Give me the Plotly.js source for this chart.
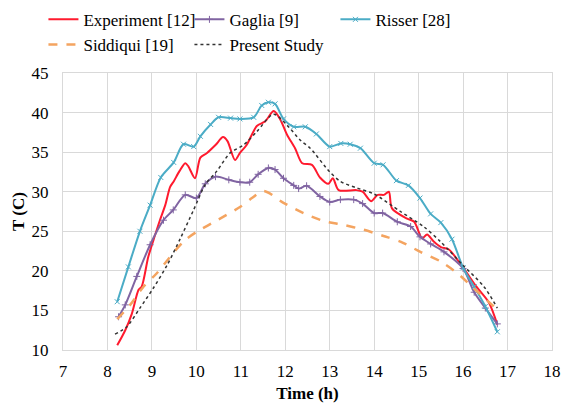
<!DOCTYPE html>
<html>
<head>
<meta charset="utf-8">
<script src="https://cdn.plot.ly/plotly-3.0.1.min.js"></script>
<style>html,body{margin:0;padding:0;background:#fff}#chart{width:561px;height:405px}</style>
</head>
<body>
<div id="chart"></div>
<script>
// Experiment [12]
const expX = [8.22,8.4,8.55,8.7,8.77,8.92,9.07,9.18,9.3,9.41,9.49,9.62,9.75,9.82,9.97,10.09,10.24,10.43,10.6,10.7,10.87,10.98,11.13,11.36,11.55,11.74,11.89,12.04,12.22,12.38,12.6,12.78,12.97,13.07,13.2,13.6,13.74,13.93,14.08,14.22,14.33,14.4,14.74,14.9,15.08,15.19,15.34,15.5,15.68,16.0,16.3,16.58,16.77];
const expY = [10.6,12.5,14.6,17.6,18.0,21.8,24.5,26.4,28.3,30.6,31.3,32.6,33.6,33.2,31.7,34.3,34.9,35.9,36.9,36.4,34.0,34.9,35.9,38.3,38.9,40.2,39.1,37.2,35.5,33.6,33.4,31.8,31.0,31.7,30.2,30.2,30.0,28.8,29.6,29.6,30.0,27.9,26.6,26.2,24.1,24.6,23.7,23.0,22.7,20.4,18.0,16.0,13.2];
// Gaglia [9]
const gagX = [8.25,8.4,8.66,8.96,9.26,9.48,9.75,10.0,10.2,10.43,10.73,10.98,11.2,11.39,11.62,11.77,11.96,12.19,12.3,12.48,12.78,13.0,13.24,13.54,13.74,14.0,14.19,14.52,14.82,15.03,15.27,15.57,16.0,16.25,16.5,16.77];
const gagY = [14.2,15.7,19.3,23.3,26.4,27.7,29.6,29.2,31.0,31.9,31.5,31.2,31.2,32.2,33.0,32.8,31.7,30.8,30.4,30.75,29.4,28.7,29.0,29.0,28.5,27.3,27.3,26.2,25.6,24.3,23.4,22.4,20.3,17.3,15.3,13.3];
// Risser [28]
const risX = [8.22,8.47,8.73,8.96,9.2,9.49,9.71,9.94,10.09,10.32,10.5,10.77,10.98,11.29,11.47,11.62,11.77,11.96,12.19,12.45,12.7,13.0,13.25,13.46,13.69,14.0,14.2,14.5,14.77,15.03,15.27,15.5,15.75,16.0,16.25,16.5,16.77];
const risY = [16.1,20.5,25.0,28.3,31.8,33.7,36.0,35.7,37.0,38.5,39.4,39.3,39.2,39.4,40.9,41.3,41.1,39.2,38.2,38.2,37.3,35.7,36.1,36.0,35.5,33.6,33.4,31.4,30.8,29.2,27.2,26.1,24.0,20.4,18.0,15.5,12.3];
// Siddiqui [19]
const sidX = [8.22,8.51,8.81,9.11,9.5,9.75,10.0,10.5,10.99,11.25,11.51,11.96,12.41,12.86,13.31,13.76,14.21,14.59,15.04,15.49,15.87,16.24,16.73];
const sidY = [13.9,15.7,18.0,19.7,22.4,23.9,24.9,26.5,28.1,29.2,30.1,28.6,27.3,26.3,25.8,25.2,24.4,23.7,22.4,21.2,19.7,17.8,15.3];
// Present Study
const preX = [8.17,8.43,8.73,9.03,9.34,9.64,9.93,10.2,10.46,10.76,11.06,11.36,11.74,12.04,12.34,12.56,13.0,13.24,13.6,14.0,14.59,15.11,15.49,16.0,16.47,16.77];
const preY = [12.0,12.9,15.3,17.8,20.7,24.1,27.6,30.9,32.6,34.9,35.9,37.6,39.8,38.4,36.5,35.5,32.5,31.3,30.5,29.7,27.5,25.6,23.7,20.7,18.0,15.3];

const xTicks = [7,8,9,10,11,12,13,14,15,16,17,18];
const yTicks = [10,15,20,25,30,35,40,45];

const serif = 'Liberation Serif';

const traces = [
  {name:'Experiment [12]', x:expX, y:expY, mode:'lines', line:{color:'#ff1a2e', width:2, shape:'spline', smoothing:0.8}},
  {name:'Gaglia [9]', x:gagX, y:gagY, mode:'lines+markers', line:{color:'#8064a2', width:2, shape:'spline', smoothing:0.8},
    marker:{symbol:'cross-thin-open', size:5, color:'#8064a2', line:{color:'#8064a2', width:1}}},
  {name:'Risser [28]', x:risX, y:risY, mode:'lines+markers', line:{color:'#4bacc6', width:2, shape:'spline', smoothing:0.8},
    marker:{symbol:'x-thin-open', size:5, color:'#4bacc6', line:{color:'#4bacc6', width:1}}},
  {name:'Siddiqui [19]', x:sidX, y:sidY, mode:'lines', line:{color:'#f4a460', width:2.5, dash:'dash', shape:'spline', smoothing:0.8}},
  {name:'Present Study', x:preX, y:preY, mode:'lines', line:{color:'#333333', width:1.5, dash:'dot', shape:'spline', smoothing:0.8}}
];

const layout = {
  width:561, height:405,
  margin:{l:63, r:9, t:73, b:55, autoexpand:false},
  paper_bgcolor:'#fff', plot_bgcolor:'#fff',
  font:{family:serif, size:16, color:'#000'},
  showlegend:true,
  legend:{orientation:'h', x:-0.04, xanchor:'left', y:1.257, yanchor:'top',
    entrywidth:101, entrywidthmode:'pixels', font:{family:serif, size:17, color:'#000'},
    bgcolor:'rgba(0,0,0,0)', itemwidth:30, tracegroupgap:0},
  xaxis:{range:[7,18], tickvals:xTicks, ticktext:xTicks.map(String), showgrid:true, gridcolor:'#d9d9d9', gridwidth:1,
    zeroline:false, showline:true, mirror:true, linecolor:'#d9d9d9', linewidth:1, ticks:'', ticklabelstandoff:6,
    tickfont:{family:serif, size:17, color:'#000'},
    title:{text:'<b>Time (h)</b>', font:{family:serif, size:17, color:'#000'}, standoff:6}},
  yaxis:{range:[10,45], tickvals:yTicks, ticktext:yTicks.map(String), showgrid:true, gridcolor:'#d9d9d9', gridwidth:1,
    zeroline:false, showline:true, mirror:true, linecolor:'#d9d9d9', linewidth:1, ticks:'', ticklabelstandoff:10,
    tickfont:{family:serif, size:17, color:'#000'},
    title:{text:'<b>T (C)</b>', font:{family:serif, size:17, color:'#000'}, standoff:2}}
};

Plotly.newPlot('chart', traces, layout, {displayModeBar:false, staticPlot:true});
</script>
</body>
</html>
